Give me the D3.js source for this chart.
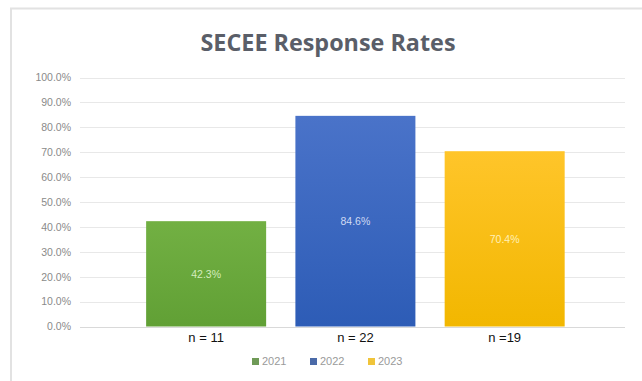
<!DOCTYPE html>
<html>
<head>
<meta charset="utf-8">
<script src="https://cdn.jsdelivr.net/npm/d3@7"></script>
<style>
  html, body { margin: 0; padding: 0; background: #fff; }
  svg { display: block; }
</style>
</head>
<body>
<svg id="chart" width="642" height="381"></svg>
<script>
// Response rate per survey year
const years = ["2021", "2022", "2023"];
const rates = [42.3, 84.6, 70.4];
const sampleLabels = ["n = 11", "n = 22", "n =19"];
const yTicks = [0, 10, 20, 30, 40, 50, 60, 70, 80, 90, 100];
const titleText = "SECEE Response Rates";

const palette = {
  "2021": { top: "#72b043", bottom: "#61a035", label: "#d4ecbf", key: "#6f9a57" },
  "2022": { top: "#4a73c9", bottom: "#2d5cb6", label: "#cfdaf3", key: "#4a6aa8" },
  "2023": { top: "#ffc52a", bottom: "#f2b700", label: "#fff0b8", key: "#f0c43a" }
};

const svg = d3.select("#chart");
const W = 642, H = 381;

// outer chart frame
svg.append("rect")
  .attr("x", 11).attr("y", 8.5)
  .attr("width", W - 10).attr("height", H)
  .attr("fill", "#fff")
  .attr("stroke", "#e2e2e2").attr("stroke-width", 2);

const defs = svg.append("defs");
years.forEach(y => {
  const g = defs.append("linearGradient")
    .attr("id", "grad" + y)
    .attr("x1", 0).attr("y1", 0).attr("x2", 0).attr("y2", 1);
  g.append("stop").attr("offset", "0%").attr("stop-color", palette[y].top);
  g.append("stop").attr("offset", "100%").attr("stop-color", palette[y].bottom);
});

// scales
const y = d3.scaleLinear().domain([0, 100]).range([326.5, 77.5]);
const x = d3.scaleBand().domain(years)
  .range([131.5, 579.3]).paddingInner(0.196).paddingOuter(0.098);

// title
svg.append("text")
  .attr("x", 328).attr("y", 50.5)
  .attr("text-anchor", "middle")
  .attr("font-family", "'Open Sans', sans-serif")
  .attr("font-weight", 700)
  .attr("font-size", 24)
  .attr("textLength", 255)
  .attr("lengthAdjust", "spacingAndGlyphs")
  .attr("fill", "#5a5e68")
  .text(titleText);

// gridlines
svg.append("g")
  .selectAll("line")
  .data(yTicks)
  .join("line")
  .attr("x1", 80).attr("x2", 625)
  .attr("y1", d => Math.round(y(d)) + 0.5)
  .attr("y2", d => Math.round(y(d)) + 0.5)
  .attr("stroke", d => d === 0 ? "#d9d9d9" : "#e8e8e8")
  .attr("stroke-width", 1);

// y axis labels
const yAxis = d3.axisLeft(y).tickValues(yTicks)
  .tickFormat(d => d.toFixed(1) + "%")
  .tickSize(0).tickPadding(0);
const ya = svg.append("g").attr("transform", "translate(71,0)").call(yAxis);
ya.select(".domain").remove();
ya.selectAll("text")
  .attr("font-family", "'Liberation Sans', Arial, sans-serif")
  .attr("font-size", 10.5)
  .attr("fill", "#8a8a8a");

// bars
const data = years.map((yr, i) => ({ year: yr, rate: rates[i], n: sampleLabels[i] }));
svg.append("g")
  .selectAll("rect")
  .data(data)
  .join("rect")
  .attr("x", d => x(d.year))
  .attr("y", d => y(d.rate))
  .attr("width", x.bandwidth())
  .attr("height", d => y(0) - y(d.rate))
  .attr("fill", d => `url(#grad${d.year})`);

// value labels centred in bars
svg.append("g")
  .selectAll("text")
  .data(data)
  .join("text")
  .attr("x", d => x(d.year) + x.bandwidth() / 2)
  .attr("y", d => (y(d.rate) + y(0)) / 2)
  .attr("dy", "0.35em")
  .attr("text-anchor", "middle")
  .attr("font-family", "'Liberation Sans', Arial, sans-serif")
  .attr("font-size", 10.5)
  .attr("fill", d => palette[d.year].label)
  .text(d => d.rate.toFixed(1) + "%");

// sample size labels under each bar
svg.append("g")
  .selectAll("text")
  .data(data)
  .join("text")
  .attr("x", d => x(d.year) + x.bandwidth() / 2)
  .attr("y", 341.5)
  .attr("text-anchor", "middle")
  .attr("font-family", "'Liberation Sans', Arial, sans-serif")
  .attr("font-size", 13)
  .attr("fill", "#111")
  .text(d => d.n);

// legend
const legendX = [252, 310, 368];
const lg = svg.append("g")
  .selectAll("g")
  .data(years)
  .join("g")
  .attr("transform", (d, i) => `translate(${legendX[i]},361.5)`);
lg.append("rect")
  .attr("x", 0).attr("y", -3.5)
  .attr("width", 7).attr("height", 7)
  .attr("fill", d => palette[d].key);
lg.append("text")
  .attr("x", 10).attr("y", 0)
  .attr("dy", "0.35em")
  .attr("font-family", "'Liberation Sans', Arial, sans-serif")
  .attr("font-size", 11)
  .attr("fill", "#9a9a9a")
  .text(d => d);
</script>
</body>
</html>
